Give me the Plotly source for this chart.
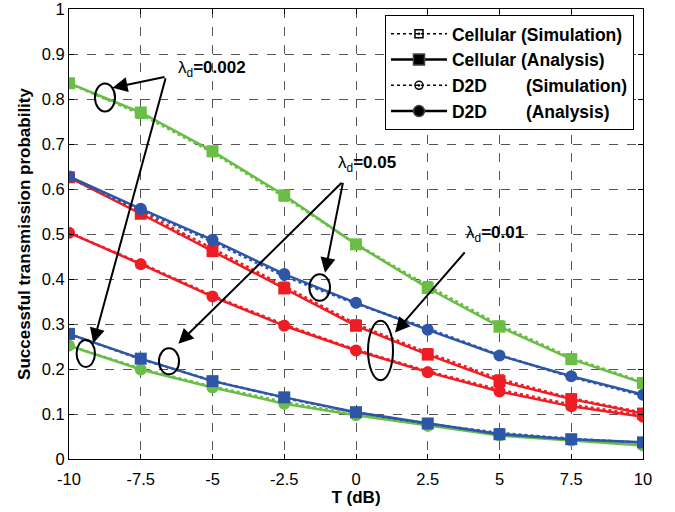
import plotly.graph_objects as go

# SIR threshold T (dB)
T_DB = [-10, -7.5, -5, -2.5, 0, 2.5, 5, 7.5, 10]
X_TICK_LABELS = ["-10", "-7.5", "-5", "-2.5", "0", "2.5", "5", "7.5", "10"]
Y_TICKS = [0, 0.1, 0.2, 0.3, 0.4, 0.5, 0.6, 0.7, 0.8, 0.9, 1]
Y_TICK_LABELS = ["0", "0.1", "0.2", "0.3", "0.4", "0.5", "0.6", "0.7", "0.8", "0.9", "1"]

# lambda_d = 0.002
cell_002_ana = [0.835, 0.770, 0.684, 0.586, 0.477, 0.380, 0.294, 0.222, 0.169]
cell_002_sim = [0.835, 0.766, 0.681, 0.582, 0.478, 0.385, 0.298, 0.225, 0.171]
d2d_002_ana = [0.252, 0.199, 0.159, 0.123, 0.097, 0.074, 0.052, 0.041, 0.030]
d2d_002_sim = [0.252, 0.201, 0.161, 0.127, 0.099, 0.077, 0.056, 0.043, 0.032]

# lambda_d = 0.01
cell_001_ana = [0.626, 0.545, 0.462, 0.379, 0.296, 0.232, 0.173, 0.133, 0.101]
cell_001_sim = [0.626, 0.550, 0.468, 0.384, 0.300, 0.236, 0.178, 0.135, 0.103]
d2d_001_ana = [0.503, 0.433, 0.361, 0.296, 0.241, 0.193, 0.150, 0.117, 0.094]
d2d_001_sim = [0.503, 0.435, 0.363, 0.299, 0.243, 0.195, 0.154, 0.121, 0.097]

# lambda_d = 0.05
cell_005_ana = [0.278, 0.223, 0.173, 0.137, 0.104, 0.079, 0.055, 0.044, 0.037]
cell_005_sim = [0.278, 0.222, 0.174, 0.136, 0.103, 0.078, 0.058, 0.045, 0.036]
d2d_005_ana = [0.628, 0.556, 0.487, 0.411, 0.347, 0.287, 0.230, 0.184, 0.143]
d2d_005_sim = [0.625, 0.553, 0.483, 0.406, 0.345, 0.290, 0.231, 0.182, 0.141]

GREEN = "#69be46"
RED = "#ee1d24"
BLUE = "#2d56a8"
FONT = "Liberation Sans, Arial, sans-serif"

fig = go.Figure()

curves = [
    (cell_001_sim, cell_001_ana, RED, "square"),
    (d2d_001_sim, d2d_001_ana, RED, "circle"),
    (cell_002_sim, cell_002_ana, GREEN, "square"),
    (d2d_002_sim, d2d_002_ana, GREEN, "circle"),
    (cell_005_sim, cell_005_ana, BLUE, "square"),
    (d2d_005_sim, d2d_005_ana, BLUE, "circle"),
]

for sim, ana, color, sym in curves:
    fig.add_trace(go.Scatter(
        x=T_DB, y=sim, mode="lines+markers", showlegend=False,
        line=dict(color=color, width=2.5, dash="dot"),
        marker=dict(symbol=sym + "-open-dot", size=8, color=color, line=dict(width=1.5)),
    ))
    fig.add_trace(go.Scatter(
        x=T_DB, y=ana, mode="lines+markers", showlegend=False,
        line=dict(color=color, width=2.5),
        marker=dict(symbol=sym, size=12, color=color),
    ))

# legend entries (black style keys)
NB = "\u00a0"
legend_items = [
    ("Cellular (Simulation)", "dot", "square-open-dot", 8, 1.5),
    ("Cellular (Analysis)", "solid", "square", 11, 2.5),
    ("D2D" + NB * 8 + "(Simulation)", "dot", "circle-open-dot", 8, 1.5),
    ("D2D" + NB * 8 + "(Analysis)", "solid", "circle", 11, 2.5),
]
for name, dash, sym, size, lw in legend_items:
    fig.add_trace(go.Scatter(
        x=[None], y=[None], mode="lines+markers", name=name,
        line=dict(color="black", width=lw, dash=dash),
        marker=dict(symbol=sym, size=size, color="black", line=dict(width=1.5)),
    ))

# ellipses marking the curve groups
ellipses = [
    (-8.746, 0.8035, 0.35, 0.031),
    (-9.415, 0.2345, 0.32, 0.030),
    (-1.265, 0.381, 0.36, 0.0295),
    (-6.516, 0.2172, 0.35, 0.029),
    (0.854, 0.241, 0.435, 0.066),
]
for cx, cy, hw, hh in ellipses:
    fig.add_shape(type="circle", xref="x", yref="y",
                  x0=cx - hw, x1=cx + hw, y0=cy - hh, y1=cy + hh,
                  line=dict(color="black", width=2))

# arrows: (tip_x, tip_y, start_x, start_y)
arrows = [
    (-8.484, 0.825, -6.62, 0.8496),
    (-9.153, 0.2573, -6.62, 0.8496),
    (-1.08, 0.414, -0.446, 0.617),
    (-6.19, 0.256, -0.446, 0.617),
    (1.359, 0.281, 3.833, 0.4624),
]
for tx, ty, sx, sy in arrows:
    fig.add_annotation(x=tx, y=ty, ax=sx, ay=sy, xref="x", yref="y",
                       axref="x", ayref="y", text="", showarrow=True,
                       arrowhead=2, arrowsize=1.5, arrowwidth=2,
                       arrowcolor="black", standoff=0, startstandoff=0)

labels = [
    (-5.02, 0.867, "0.002"),
    (0.38, 0.655, "0.05"),
    (4.86, 0.50, "0.01"),
]
for lx, ly, val in labels:
    fig.add_annotation(x=lx, y=ly, xref="x", yref="y", showarrow=False,
                       text="λ<sub>d</sub><b>=" + val + "</b>",
                       font=dict(family=FONT, size=17, color="black"))

axis_common = dict(
    showline=True, linecolor="black", linewidth=1, mirror="ticks",
    ticks="inside", ticklen=5, tickcolor="black",
    showgrid=True, gridcolor="#555555", griddash="dash", gridwidth=1,
    zeroline=False, ticklabeloverflow="allow", automargin=False,
    tickfont=dict(family=FONT, size=16.5, color="black"),
)

fig.update_xaxes(range=[-10, 10], tickvals=T_DB, ticktext=X_TICK_LABELS,
                 ticklabelstandoff=5,
                 title=dict(text="T (dB)", font=dict(family=FONT, size=17, color="black", weight="bold"), standoff=4),
                 **axis_common)
fig.update_yaxes(range=[0, 1], tickvals=Y_TICKS, ticktext=Y_TICK_LABELS,
                 title=dict(text="Successful transmission probability", font=dict(family=FONT, size=17, color="black", weight="bold"), standoff=6),
                 **axis_common)

fig.update_layout(
    width=675, height=512,
    margin=dict(l=69, r=32, t=9, b=53, autoexpand=False),
    paper_bgcolor="white", plot_bgcolor="white",
    legend=dict(x=0.5505, y=0.9867, xanchor="left", yanchor="top",
                bgcolor="white", bordercolor="black", borderwidth=1,
                font=dict(family=FONT, size=17.5, color="black", weight="bold"),
                tracegroupgap=0, itemwidth=56),
    showlegend=True,
)

fig.write_html("out.html")
